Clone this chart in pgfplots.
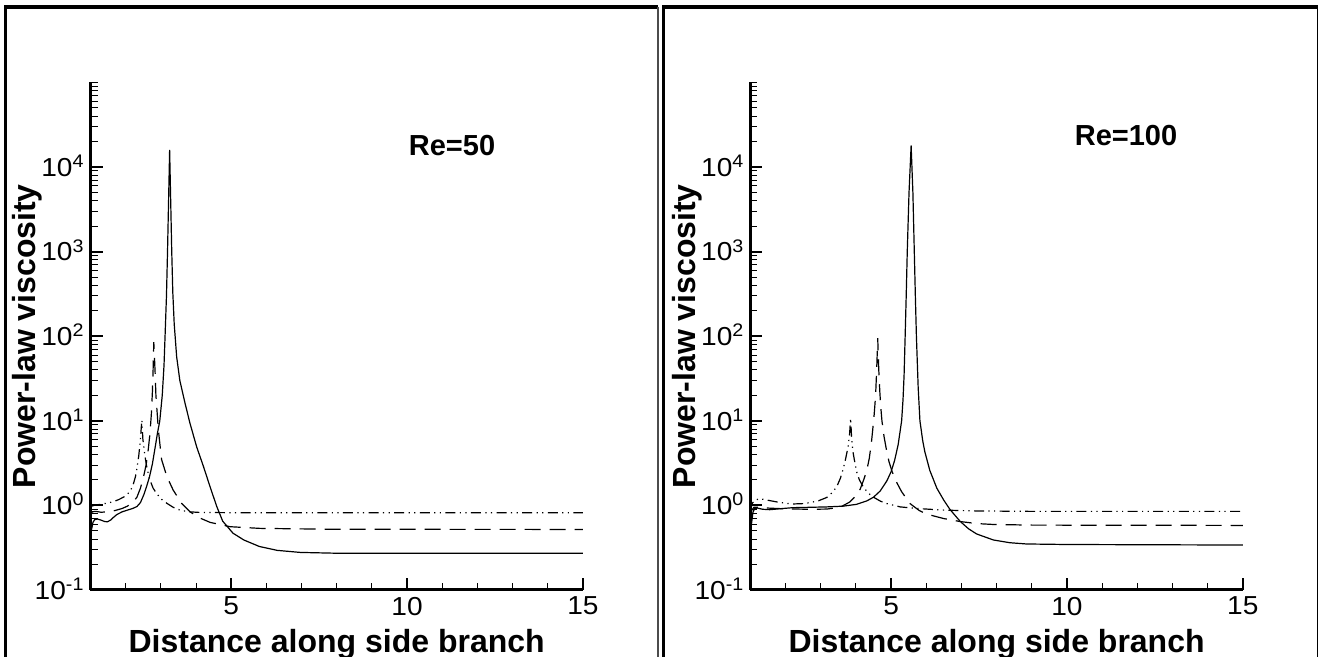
\documentclass[border=0pt]{standalone}
\usepackage{fontspec}
\setmainfont{Liberation Sans}
\newfontfamily\tickfont[FakeStretch=1.08]{Liberation Sans}
\usepackage{pgfplots}
\pgfplotsset{compat=1.18}

\tikzset{
  solidc/.style={black, line width=0.6pt},
  dashc/.style={black, line width=0.6pt, dash pattern=on 8pt off 4.5pt},
  ddotc/.style={black, line width=0.6pt, dash pattern=on 5pt off 2.2pt on 0.6pt off 2.2pt on 0.6pt off 2.2pt},
}

\begin{document}
\begin{tikzpicture}
\useasboundingbox (0,0) rectangle (659.5pt,328.5pt);
\begin{scope}
\clip (0,0) rectangle (659.5pt,328.5pt);
\draw[line width=1.75pt] (2.75pt,-10pt) -- (2.75pt,325pt) -- (329pt,325pt);
\draw[line width=1pt, black!70] (329pt,325pt) -- (329pt,-10pt);
\draw[line width=1.75pt] (331.75pt,-10pt) -- (331.75pt,325pt) -- (658.75pt,325pt);
\draw[line width=0.75pt] (658.75pt,325pt) -- (658.75pt,-10pt);
\end{scope}

% ---------------- Re = 50 ----------------
\begin{axis}[at={(45.25pt,33.5pt)}, anchor=south west,
    scale only axis,
    width=246.2pt, height=253.75pt,
    ymode=log, xmin=1, xmax=15, ymin=0.1, ymax=1e5,
    axis lines=left, axis line style={-, line width=1.5pt},
    tick align=inside,
    xtick={5,10,15}, xticklabels={5,10,15},
    minor xtick={2,3,4,6,7,8,9,11,12,13,14},
    ytick={0.1,1,10,100,1000,10000},
    yticklabels={10\textsuperscript{-1},10\textsuperscript{0},10\textsuperscript{1},10\textsuperscript{2},10\textsuperscript{3},10\textsuperscript{4}},
    minor ytick={0.2,0.3,0.4,0.5,0.6,0.7,0.8,0.9,2,3,4,5,6,7,8,9,20,30,40,50,60,70,80,90,200,300,400,500,600,700,800,900,2000,3000,4000,5000,6000,7000,8000,9000,20000,30000,40000,50000,60000,70000,80000,90000,100000},
    major tick length=6pt, minor tick length=3.5pt,
    major tick style={line width=1pt, black},
    minor tick style={line width=0.5pt, black},
    tick label style={font=\tickfont\fontsize{13}{13}\selectfont},
    yticklabel style={anchor=base east, yshift=-4.6pt, xshift=0.5pt},
    xlabel={Distance along side branch},
    ylabel={Power-law viscosity},
    label style={font=\bfseries\fontsize{16}{16}\selectfont},
    xlabel style={at={(axis description cs:0.5,-0.123)}, anchor=base},
    ylabel style={at={(axis description cs:-0.112,0.5)}, anchor=base},
]
\addplot[solidc] coordinates {
(1.00,0.40) (1.03,0.52) (1.07,0.63) (1.12,0.68) (1.20,0.69) (1.30,0.67)
(1.40,0.645) (1.48,0.64) (1.57,0.67) (1.65,0.72) (1.75,0.78) (1.90,0.84)
(2.05,0.88) (2.20,0.92) (2.32,0.97) (2.42,1.08) (2.52,1.35) (2.60,1.70)
(2.68,2.2) (2.76,3.1) (2.84,4.9) (2.90,7) (2.97,10) (3.04,20) (3.09,45)
(3.12,100) (3.16,300) (3.19,1000) (3.22,4000) (3.25,16000) (3.28,4000)
(3.31,1000) (3.34,330) (3.38,140) (3.45,57) (3.54,30) (3.69,16)
(3.83,9.3) (4.02,4.9) (4.21,2.9) (4.40,1.66) (4.59,0.97) (4.76,0.65)
(5.05,0.47) (5.36,0.39) (5.80,0.327) (6.31,0.294) (6.97,0.278) (8.0,0.272)
(10,0.272) (15,0.272)
};
\addplot[dashc] coordinates {
(1.00,0.78) (1.05,0.84) (1.15,0.85) (1.30,0.83) (1.50,0.84) (1.70,0.87)
(1.90,0.92) (2.05,0.98) (2.20,1.08) (2.32,1.25) (2.42,1.6) (2.50,2.1)
(2.58,3.0) (2.64,4.5) (2.69,7) (2.73,12) (2.76,22) (2.78,40) (2.79,60)
(2.80,85) (2.82,55) (2.84,35) (2.86,20) (2.93,7.8) (3.02,3.5)
(3.17,2.2) (3.35,1.52) (3.59,1.06) (3.83,0.84) (4.11,0.71) (4.40,0.63)
(4.97,0.56) (5.82,0.535) (8,0.522) (15,0.52)
};
\addplot[ddotc] coordinates {
(1.00,0.97) (1.10,1.00) (1.28,1.03) (1.50,1.07) (1.66,1.11) (1.80,1.17)
(1.95,1.26) (2.05,1.36) (2.14,1.50) (2.22,1.8) (2.28,2.2) (2.33,2.9)
(2.37,3.8) (2.40,5.0) (2.43,7) (2.46,10.2) (2.49,6) (2.55,3.8) (2.61,2.7)
(2.69,2.0) (2.78,1.6) (2.88,1.38) (3.02,1.18) (3.17,1.06) (3.35,0.95)
(3.54,0.88) (3.80,0.84) (4.13,0.825) (5,0.82) (15,0.82)
};
\node[font=\bfseries\fontsize{14.5}{14.5}\selectfont, anchor=base] at (axis cs:11.28,1.38e4) {Re=50};
\end{axis}

% ---------------- Re = 100 ----------------
\begin{axis}[at={(375.2pt,33.5pt)}, anchor=south west,
    scale only axis,
    width=246.2pt, height=253.75pt,
    ymode=log, xmin=1, xmax=15, ymin=0.1, ymax=1e5,
    axis lines=left, axis line style={-, line width=1.5pt},
    tick align=inside,
    xtick={5,10,15}, xticklabels={5,10,15},
    minor xtick={2,3,4,6,7,8,9,11,12,13,14},
    ytick={0.1,1,10,100,1000,10000},
    yticklabels={10\textsuperscript{-1},10\textsuperscript{0},10\textsuperscript{1},10\textsuperscript{2},10\textsuperscript{3},10\textsuperscript{4}},
    minor ytick={0.2,0.3,0.4,0.5,0.6,0.7,0.8,0.9,2,3,4,5,6,7,8,9,20,30,40,50,60,70,80,90,200,300,400,500,600,700,800,900,2000,3000,4000,5000,6000,7000,8000,9000,20000,30000,40000,50000,60000,70000,80000,90000,100000},
    major tick length=6pt, minor tick length=3.5pt,
    major tick style={line width=1pt, black},
    minor tick style={line width=0.5pt, black},
    tick label style={font=\tickfont\fontsize{13}{13}\selectfont},
    yticklabel style={anchor=base east, yshift=-4.6pt, xshift=0.5pt},
    xlabel={Distance along side branch},
    ylabel={Power-law viscosity},
    label style={font=\bfseries\fontsize{16}{16}\selectfont},
    xlabel style={at={(axis description cs:0.5,-0.123)}, anchor=base},
    ylabel style={at={(axis description cs:-0.112,0.5)}, anchor=base},
]
\addplot[solidc] coordinates {
(1.00,0.40) (1.03,0.60) (1.07,0.82) (1.12,0.92) (1.20,0.93) (1.35,0.90)
(1.55,0.89) (1.80,0.91) (2.20,0.94) (2.70,0.95) (3.17,0.96) (3.64,0.98)
(4.02,1.03) (4.31,1.13) (4.50,1.25) (4.69,1.48) (4.88,1.95) (5.00,2.5)
(5.10,3.4) (5.20,5.2) (5.30,10) (5.34,18) (5.37,35) (5.40,100) (5.43,300)
(5.46,1000) (5.51,5000) (5.57,18000) (5.62,5000) (5.66,1000) (5.69,300)
(5.72,100) (5.77,25) (5.82,10) (5.90,5.8) (5.96,4.3) (6.10,2.6)
(6.30,1.6) (6.50,1.15) (6.67,0.9) (6.96,0.65) (7.20,0.53) (7.43,0.46)
(7.91,0.39) (8.38,0.362) (8.85,0.35) (10,0.345) (15,0.34)
};
\addplot[dashc] coordinates {
(1.00,0.70) (1.04,0.88) (1.10,0.95) (1.25,0.95) (1.5,0.93) (2.0,0.91)
(2.7,0.90) (3.17,0.905) (3.55,0.95) (3.83,1.10) (4.00,1.3) (4.12,1.55)
(4.22,2.0) (4.31,2.6) (4.38,3.6) (4.44,5.5) (4.48,8) (4.52,12) (4.56,20)
(4.59,40) (4.61,70) (4.62,95) (4.63,70) (4.65,40) (4.68,22) (4.71,14)
(4.74,10) (4.80,6.5) (4.87,4.5) (4.94,3.3) (5.03,2.5) (5.15,1.9)
(5.30,1.45) (5.54,1.05) (5.80,0.87) (6.01,0.79) (6.49,0.70) (6.96,0.645)
(7.43,0.61) (7.91,0.595) (9,0.585) (15,0.58)
};
\addplot[ddotc] coordinates {
(1.00,0.85) (1.05,1.05) (1.12,1.15) (1.27,1.20) (1.5,1.15) (1.75,1.10)
(2.0,1.06) (2.22,1.04) (2.5,1.05) (2.70,1.08) (2.95,1.14) (3.17,1.24)
(3.35,1.45) (3.46,1.68) (3.56,2.1) (3.64,2.7) (3.71,3.6) (3.78,5.0)
(3.82,7) (3.85,10.7) (3.88,6) (3.92,4.2) (3.97,3.2) (4.02,2.5) (4.10,2.0)
(4.21,1.65) (4.35,1.4) (4.50,1.25) (4.70,1.12) (4.88,1.05) (5.26,0.96)
(5.73,0.92) (6.49,0.88) (7.43,0.86) (9,0.85) (15,0.85)
};
\node[font=\bfseries\fontsize{14.5}{14.5}\selectfont, anchor=base] at (axis cs:11.68,1.82e4) {Re=100};
\end{axis}
\end{tikzpicture}
\end{document}
